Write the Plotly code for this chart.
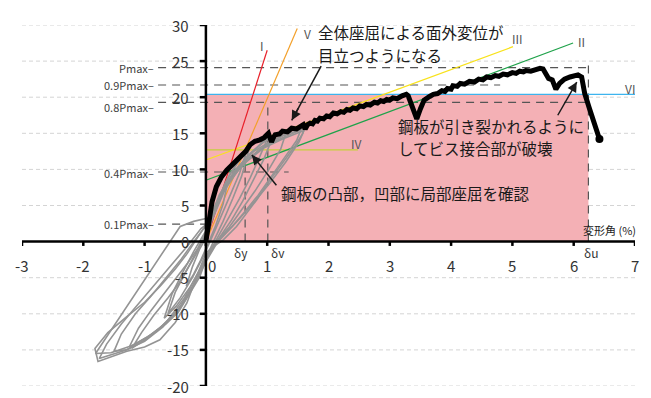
import plotly.graph_objects as go

FONT = "Noto Sans CJK JP"

# ---------------- data ----------------
x_ticks = [-3, -2, -1, 0, 1, 2, 3, 4, 5, 6, 7]
y_ticks = [-20, -15, -10, -5, 0, 5, 10, 15, 20, 25, 30]

# skeleton (envelope) curve
env_x = [0.00, 0.02, 0.05, 0.10, 0.17, 0.25, 0.34, 0.45, 0.55, 0.65,
         0.72, 0.80, 0.88, 0.95, 1.02, 1.05, 1.07, 1.10, 1.13, 1.20,
         1.25, 1.33, 1.40, 1.48, 1.55, 1.59, 1.62, 1.66, 1.70, 1.74,
         1.78, 1.82, 1.86, 1.92, 1.97, 2.02, 2.08, 2.14, 2.20, 2.25,
         2.30, 2.35, 2.40, 2.46, 2.51, 2.57, 2.62, 2.68, 2.75, 2.80,
         2.85, 2.90, 2.95, 3.00, 3.05, 3.12, 3.20, 3.27, 3.30, 3.34,
         3.38, 3.44, 3.50, 3.56, 3.65, 3.71, 3.78, 3.85, 3.90, 3.94,
         4.00, 4.03, 4.10, 4.15, 4.22, 4.30, 4.38, 4.45, 4.52, 4.58,
         4.65, 4.72, 4.78, 4.85, 4.92, 5.00, 5.06, 5.12, 5.18, 5.22,
         5.30, 5.38, 5.45, 5.50, 5.53, 5.56, 5.59, 5.65, 5.71, 5.77,
         5.85, 5.94, 6.01, 6.07, 6.13, 6.18, 6.25, 6.32, 6.42]
env_y = [0.0, 1.0, 3.0, 5.5, 7.6, 8.9, 9.9, 10.8, 11.5, 12.5,
         13.4, 13.9, 14.1, 14.4, 15.0, 14.3, 13.8, 14.4, 14.8, 14.9,
         15.3, 15.2, 15.7, 15.6, 16.1, 16.2, 15.6, 16.2, 16.4, 16.3,
         16.8, 16.7, 17.1, 17.0, 17.4, 17.3, 17.8, 17.7, 18.0, 17.9,
         18.3, 18.2, 18.5, 18.4, 18.8, 18.7, 19.0, 18.9, 19.3, 19.2,
         19.5, 19.4, 19.7, 19.6, 19.9, 19.8, 20.2, 20.4, 20.2, 19.2,
         18.0, 17.0, 18.4, 19.6, 20.1, 20.4, 20.5, 20.9, 20.8, 21.2,
         21.1, 21.6, 21.5, 21.9, 21.8, 22.2, 22.1, 22.5, 22.4, 22.8,
         22.7, 23.0, 22.9, 23.2, 23.1, 23.4, 23.3, 23.6, 23.5, 23.7,
         23.6, 23.9, 24.0, 23.9, 23.5, 23.3, 22.6, 22.4, 21.1, 21.9,
         22.5, 22.8, 23.0, 23.1, 22.8, 20.5, 18.6, 16.8, 14.2]

# hysteresis loops (grey)
loop1_x = [0.00, 0.10, 0.22, 0.35, 0.28, 0.15, 0.05, -0.08, -0.20, -0.32, -0.22, -0.10, 0.00]
loop1_y = [0.0, 3.0, 5.8, 8.0, 5.2, 2.0, 0.0, -2.5, -4.5, -6.2, -3.5, -1.0, 0.5]
loop2_x = [0.00, 0.15, 0.32, 0.50, 0.66, 0.55, 0.40, 0.25, 0.12, -0.05, -0.22, -0.42, -0.62,
           -0.50, -0.35, -0.18, -0.02]
loop2_y = [0.5, 4.5, 8.2, 10.8, 12.4, 9.5, 6.5, 3.5, 1.0, -2.2, -5.0, -7.8, -10.0,
           -7.0, -4.6, -1.8, 1.0]
loop3_x = [-0.02, 0.18, 0.38, 0.56, 0.70, 0.58, 0.44, 0.28, 0.14, -0.04, -0.25, -0.48, -0.68,
           -0.55, -0.38, -0.20, 0.00]
loop3_y = [1.0, 5.5, 9.2, 11.4, 12.6, 9.0, 6.0, 2.8, 0.3, -3.0, -6.2, -8.9, -10.6,
           -7.2, -4.3, -1.4, 1.5]
loop4_x = [0.00, 0.20, 0.42, 0.65, 0.85, 1.02, 0.88, 0.72, 0.55, 0.38, 0.20, 0.02, -0.10,
           -0.28, -0.45, -0.65, -0.82, -1.00, -1.21, -1.05, -0.85, -0.62, -0.45, -0.31,
           -0.15, 0.00]
loop4_y = [1.5, 5.8, 9.0, 11.6, 13.2, 14.6, 11.8, 8.8, 6.0, 3.4, 0.8, -2.0, -4.9,
           -7.5, -9.8, -11.4, -12.4, -13.6, -14.8, -12.6, -10.2, -7.8, -5.9, -3.9,
           -1.6, 1.2]
loop5_x = [0.00, 0.25, 0.50, 0.75, 0.95, 1.08, 0.95, 0.78, 0.60, 0.42, 0.25, 0.08, -0.08,
           -0.25, -0.45, -0.70, -0.95, -1.18, -1.25, -1.10, -0.90, -0.70, -0.50, -0.30,
           -0.12, 0.02]
loop5_y = [1.2, 6.5, 10.0, 12.4, 13.8, 14.3, 11.5, 8.6, 5.6, 3.0, 0.9, -1.2, -4.0,
           -6.9, -9.5, -11.6, -13.2, -14.3, -14.6, -12.0, -9.6, -7.4, -5.2, -3.0,
           -0.8, 1.4]
loop6_x = [0.02, 0.15, 0.35, 0.60, 0.90, 1.15, 1.35, 1.50, 1.61, 1.58, 1.45, 1.21, 1.00,
           0.83, 0.65, 0.50, 0.28, 0.10, 0.00, -0.15, -0.31, -0.50, -0.75, -1.00, -1.29,
           -1.50, -1.76, -1.81, -1.60, -1.29, -1.00, -0.75, -0.50, -0.30, -0.10, 0.05]
loop6_y = [1.4, 4.0, 8.0, 11.0, 12.8, 14.0, 14.8, 15.3, 15.7, 15.0, 13.2, 10.4, 8.0,
           5.8, 3.8, 2.1, 0.2, -0.8, -1.6, -4.8, -8.5, -11.2, -13.6, -14.6, -15.2,
           -15.8, -16.6, -14.8, -12.6, -10.4, -8.4, -6.2, -3.8, -1.6, 1.1, 3.0]
loop7_x = [0.05, 0.30, 0.62, 0.95, 1.25, 1.48, 1.60, 1.52, 1.30, 1.05, 0.80, 0.55, 0.35,
           0.18, 0.02, -0.20, -0.45, -0.80, -1.20, -1.55, -1.80, -1.65, -1.40, -1.15,
           -0.90, -0.65, -0.42, -0.20, 0.00]
loop7_y = [3.0, 7.5, 10.8, 13.0, 14.2, 15.0, 15.4, 13.8, 11.0, 8.2, 5.6, 3.2, 1.4,
           -0.2, -2.5, -6.0, -9.4, -12.4, -14.4, -15.4, -15.5, -13.6, -10.4, -7.2,
           -4.0, -0.8, 2.1, 2.8, 3.2]
loop8_x = [0.03, 0.28, 0.55, 0.85, 1.10, 1.30, 1.22, 1.02, 0.80, 0.58, 0.38, 0.20, 0.05,
           -0.15, -0.40, -0.70, -1.00, -1.30, -1.50, -1.38, -1.15, -0.90, -0.65, -0.40,
           -0.18, 0.02]
loop8_y = [2.0, 6.8, 10.2, 12.6, 14.0, 14.9, 12.8, 9.9, 7.0, 4.3, 2.0, 0.3, -1.8,
           -5.2, -8.8, -11.8, -13.8, -15.0, -15.2, -12.8, -10.0, -7.6, -5.0, -2.4,
           0.2, 2.4]
loop9_x = [0.02, 0.22, 0.48, 0.78, 1.08, 1.32, 1.55, 1.48, 1.28, 1.05, 0.85, 0.62, 0.42,
           0.25, 0.08, -0.12, -0.35, -0.65, -0.98, -1.30, -1.58, -1.74, -1.62, -1.38,
           -1.10, -0.82, -0.55, -0.30, -0.08, 0.04]
loop9_y = [2.2, 6.5, 10.0, 12.5, 14.0, 14.9, 15.5, 14.0, 11.6, 8.8, 6.4, 4.0, 2.0,
           0.6, -1.0, -4.2, -7.8, -11.2, -13.6, -15.0, -15.8, -16.2, -14.2, -11.4,
           -8.6, -5.8, -3.0, -0.6, 1.8, 2.6]
loops = [(loop1_x, loop1_y), (loop2_x, loop2_y), (loop3_x, loop3_y), (loop4_x, loop4_y),
         (loop5_x, loop5_y), (loop6_x, loop6_y), (loop7_x, loop7_y), (loop8_x, loop8_y),
         (loop9_x, loop9_y)]

# characteristic values
p_max = 24.1
p_labels = ["Pmax", "0.9Pmax", "0.8Pmax", "0.4Pmax", "0.1Pmax"]
p_factors = [1.0, 0.9, 0.8, 0.4, 0.1]
p_line_end = [6.24, 4.8, 6.24, 1.35, 0.0]
p_label_dy = [0.0, 0.0, -0.6, -0.2, 0.0]
delta_names = ["δy", "δv", "δu"]
delta_x = [0.64, 1.01, 6.24]
delta_top = [12.5, 19.3, 25.0]
vi_level = 20.4
iv_level = 12.7
iv_end = 2.48

# straight stiffness lines: (x0, y0, x1, y1)
line_I = [0.0, 0.0, 1.0, 26.5]
line_V = [0.0, 0.0, 1.49, 29.5]
line_III = [0.0, 11.3, 5.01, 27.0]
line_II = [0.0, 8.5, 5.99, 27.5]

# callout texts (one entry per line)
note1_lines = ["全体座屈による面外変位が", "目立つようになる"]
note2_lines = ["鋼板の凸部，凹部に局部座屈を確認"]
note3_lines = ["鋼板が引き裂かれるように", "してビス接合部が破壊"]

# ---------------- figure ----------------
fig = go.Figure()

shapes = []
for v in y_ticks:
    if v == 0:
        continue
    shapes.append(dict(type="line", xref="x", yref="y", x0=-3, x1=7, y0=v, y1=v,
                       line=dict(color="#d4d4d4", width=1, dash="4px,3px"), layer="below"))
shapes.append(dict(type="rect", xref="x", yref="y", x0=0, x1=delta_x[2], y0=0, y1=vi_level,
                   fillcolor="#f4b0b5", line=dict(width=0), layer="below"))

for f, xe in zip(p_factors, p_line_end):
    fig.add_trace(go.Scatter(x=[-0.78, xe], y=[f * p_max, f * p_max], mode="lines",
                             line=dict(color="#555555", width=1.2, dash="8px,6px"),
                             hoverinfo="skip", showlegend=False))
for dx, top in zip(delta_x, delta_top):
    fig.add_trace(go.Scatter(x=[dx, dx], y=[0, top], mode="lines",
                             line=dict(color="#555555", width=1.2, dash="8px,6px"),
                             hoverinfo="skip", showlegend=False))

fig.add_trace(go.Scatter(x=[0, 7], y=[vi_level, vi_level], mode="lines",
                         line=dict(color="#3db4ee", width=1.2), showlegend=False))
fig.add_trace(go.Scatter(x=[0, iv_end], y=[iv_level, iv_level], mode="lines",
                         line=dict(color="#c5cf3c", width=1.3), showlegend=False))
for ln, col in [(line_III, "#f8e21c"), (line_II, "#1fa24a"), (line_I, "#e8202a"),
                (line_V, "#f3a02a")]:
    fig.add_trace(go.Scatter(x=[ln[0], ln[2]], y=[ln[1], ln[3]], mode="lines",
                             line=dict(color=col, width=1.2), showlegend=False))

for lx, ly in loops:
    fig.add_trace(go.Scatter(x=lx, y=ly, mode="lines",
                             line=dict(color="#949494", width=1.6), showlegend=False))

fig.add_trace(go.Scatter(x=env_x, y=env_y, mode="lines",
                         line=dict(color="black", width=5), showlegend=False))
fig.add_trace(go.Scatter(x=[env_x[-1]], y=[env_y[-1]], mode="markers",
                         marker=dict(color="black", size=8), showlegend=False))

# arrow shafts drawn as lines, heads as short annotation arrows
arrows = [((1.88, 24.3), (1.40, 16.8)), ((1.15, 7.8), (0.75, 12.0)),
          ((5.74, 17.5), (6.05, 22.1))]
for tail, tip in arrows:
    fig.add_trace(go.Scatter(x=[tail[0], tip[0]], y=[tail[1], tip[1]], mode="lines",
                             line=dict(color="#1a1a1a", width=1.5), hoverinfo="skip",
                             showlegend=False))

shapes.append(dict(type="line", xref="x", yref="y", x0=-3, x1=7, y0=0, y1=0,
                   line=dict(color="black", width=2.5), layer="above"))
shapes.append(dict(type="line", xref="x", yref="y", x0=0, x1=0, y0=-20, y1=30,
                   line=dict(color="black", width=2.5), layer="above"))
for v in x_ticks:
    shapes.append(dict(type="line", xref="x", yref="y", x0=v, x1=v, y0=0, y1=-0.6,
                       line=dict(color="black", width=2.5), layer="above"))
for v in y_ticks:
    shapes.append(dict(type="line", xref="x", yref="y", x0=0, x1=-0.1, y0=v, y1=v,
                       line=dict(color="black", width=2.5), layer="above"))

ann = []
tick_font = dict(family=FONT, size=15, color="#333333")
for v in x_ticks:
    ann.append(dict(x=v + (0.1 if v == 0 else 0), y=-3.3, text=str(v), showarrow=False,
                    xref="x", yref="y", font=tick_font, xanchor="center", yanchor="middle"))
for v in y_ticks:
    ann.append(dict(x=-0.25, y=v, text=str(v), showarrow=False, xref="x", yref="y",
                    font=tick_font, xanchor="right", yanchor="middle"))

small = dict(family=FONT, size=11, color="#404040")
for lab, f, dy in zip(p_labels, p_factors, p_label_dy):
    ann.append(dict(x=-0.82, y=f * p_max + dy, text=lab + "–", showarrow=False, xref="x",
                    yref="y", font=small, xanchor="right", yanchor="middle"))
for name, dx in zip(delta_names, delta_x):
    ann.append(dict(x=dx + (0.05 if name == "δu" else (0.17 if name == "δv" else -0.06)),
                    y=-1.5, text=name, showarrow=False, xref="x", yref="y",
                    font=dict(family=FONT, size=12, color="#333333"),
                    xanchor="center", yanchor="middle"))

roman = dict(family=FONT, size=12, color="#555555")
for txt, xx, yy in [("I", 0.91, 27.2), ("V", 1.66, 28.8), ("III", 5.08, 28.2),
                    ("II", 6.12, 27.7), ("IV", 2.46, 13.6), ("VI", 6.92, 21.2)]:
    ann.append(dict(x=xx, y=yy, text=txt, showarrow=False, xref="x", yref="y", font=roman,
                    xanchor="center", yanchor="middle"))

ann.append(dict(x=0.45, y=31.4, text="荷重 (KN)", showarrow=False, xref="x", yref="y",
                font=dict(family=FONT, size=11, color="#222222"), xanchor="center",
                yanchor="middle"))
ann.append(dict(x=6.58, y=1.6, text="変形角 (%)", showarrow=False, xref="x", yref="y",
                font=dict(family=FONT, size=11, color="#222222"), xanchor="center",
                yanchor="middle"))

big = dict(family=FONT, size=15.5, color="#1a1a1a")
for lines, x_left, y_centres in [(note1_lines, 1.80, [28.99, 25.87]),
                                 (note2_lines, 1.19, [6.7]),
                                 (note3_lines, 3.10, [16.04, 12.92])]:
    for txt, yc in zip(lines, y_centres):
        ann.append(dict(x=x_left, y=yc, text=txt, showarrow=False, xref="x", yref="y",
                        font=big, xanchor="left", yanchor="middle", align="left"))

for tail, tip in arrows:
    fx = tip[0] + (tail[0] - tip[0]) * 0.25
    fy = tip[1] + (tail[1] - tip[1]) * 0.25
    ann.append(dict(x=tip[0], y=tip[1], ax=fx, ay=fy, xref="x", yref="y",
                    axref="x", ayref="y", text="", showarrow=True, arrowhead=2,
                    arrowsize=1.3, arrowwidth=1.5, arrowcolor="#1a1a1a"))

# page body has an 8px margin, so the figure is sized to fit inside the window
fig.update_layout(
    width=643, height=390,
    margin=dict(l=14, r=16, t=17, b=12),
    paper_bgcolor="white", plot_bgcolor="white",
    xaxis=dict(range=[-3, 7], showgrid=False, zeroline=False, showticklabels=False,
               showline=False, ticks=""),
    yaxis=dict(range=[-20, 30], showgrid=False, zeroline=False, showticklabels=False,
               showline=False, ticks=""),
    shapes=shapes, annotations=ann, showlegend=False,
    font=dict(family=FONT),
)

fig.write_html("out.html")
